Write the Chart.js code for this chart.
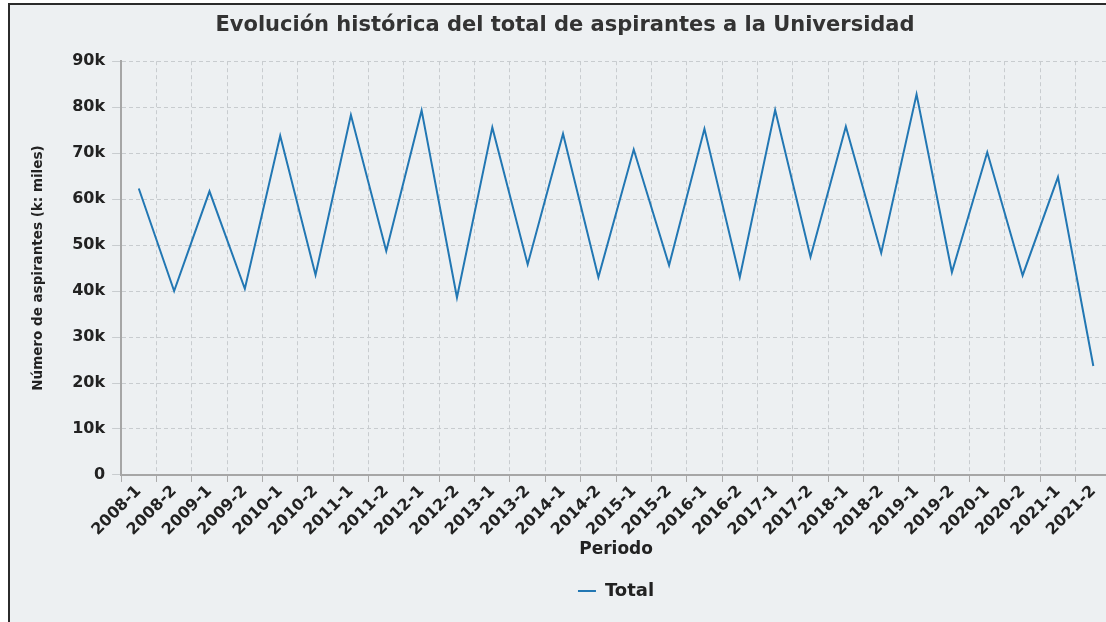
<!DOCTYPE html>
<html>
<head>
<meta charset="utf-8">
<script src="https://cdn.jsdelivr.net/npm/chart.js@4"></script>
<style>
  html, body { margin: 0; padding: 0; background: #fff; overflow: hidden; width: 1106px; height: 622px; }
  #bg { position: absolute; left: 10px; top: 5px; width: 1096px; height: 617px; background: #edf0f2; }
  #lineLeft { position: absolute; left: 8px; top: 3px; width: 2px; height: 619px; background: #2b2b2b; }
  #lineTop { position: absolute; left: 8px; top: 3px; width: 1098px; height: 2px; background: #2b2b2b; }
  #wrap { position: absolute; left: 10px; top: 6px; width: 1112px; height: 616px; }
</style>
</head>
<body>
<div id="bg"></div>
<div id="lineLeft"></div>
<div id="lineTop"></div>
<div id="wrap"><canvas id="myCanvas"></canvas></div>
<script>
const periodos = [
  "2008-1", "2008-2", "2009-1", "2009-2", "2010-1", "2010-2", "2011-1", "2011-2",
  "2012-1", "2012-2", "2013-1", "2013-2", "2014-1", "2014-2", "2015-1", "2015-2",
  "2016-1", "2016-2", "2017-1", "2017-2", "2018-1", "2018-2", "2019-1", "2019-2",
  "2020-1", "2020-2", "2021-1", "2021-2"
];
const total = [
  62300, 40000, 61700, 40500, 73800, 43500, 78300, 48700,
  79300, 38600, 75600, 45800, 74200, 43000, 70800, 45600,
  75300, 43000, 79400, 47400, 75800, 48300, 82800, 44100,
  70200, 43400, 64800, 23700
];
const yTicks = [0, 10000, 20000, 30000, 40000, 50000, 60000, 70000, 80000, 90000];

const textColor = "#222";
const font = "'DejaVu Sans', sans-serif";

const ctx = document.getElementById("myCanvas").getContext("2d");

new Chart(ctx, {
  type: "line",
  data: {
    labels: periodos,
    datasets: [{
      label: "Total",
      data: total,
      borderColor: "#2277b3",
      backgroundColor: "#4a90c8",
      borderWidth: 2,
      pointRadius: 0,
      tension: 0,
    }],
  },
  options: {
    responsive: true,
    maintainAspectRatio: false,
    animation: false,
    layout: { padding: { left: 9, right: 11, top: 0, bottom: 12 } },
    plugins: {
      title: {
        display: true,
        text: "Evolución histórica del total de aspirantes a la Universidad",
        color: "#333",
        font: { family: font, size: 21, weight: "bold" },
        padding: { top: 7, bottom: 23 },
      },
      legend: {
        position: "bottom",
        fullSize: false,
        labels: {
          usePointStyle: true,
          pointStyle: "line",
          pointStyleWidth: 18,
          boxWidth: 18,
          padding: 10,
          color: textColor,
          font: { family: font, size: 18, weight: "bold" },
        },
      },
      tooltip: { enabled: false },
    },
    scales: {
      x: {
        offset: true,
        grid: { offset: true, color: "#c8cccf", tickLength: 7, tickColor: "#aaa" },
        border: { display: true, color: "#a6a6a6", width: 2, dash: [4, 3] },
        ticks: {
          color: textColor,
          maxRotation: 45,
          minRotation: 45,
          autoSkip: false,
          font: { family: font, size: 16, weight: "bold" },
          padding: 0,
        },
        title: {
          display: true,
          text: "Periodo",
          color: textColor,
          font: { family: font, size: 17, weight: "bold" },
          padding: { top: 0, bottom: 12 },
        },
      },
      y: {
        min: 0,
        max: 90000,
        afterBuildTicks: (axis) => { axis.ticks = yTicks.map(v => ({ value: v })); },
        grid: { color: "#c8cccf", tickLength: 9 },
        border: { display: true, color: "#a6a6a6", width: 2, dash: [4, 3] },
        ticks: {
          color: textColor,
          font: { family: font, size: 16, weight: "bold" },
          padding: 7,
          callback: (v) => (v === 0 ? "0" : v / 1000 + "k"),
        },
        title: {
          display: true,
          text: "Número de aspirantes (k: miles)",
          color: textColor,
          font: { family: font, size: 13.5, weight: "bold" },
          padding: { top: 11, bottom: 19 },
        },
      },
    },
  },
});
</script>
</body>
</html>
